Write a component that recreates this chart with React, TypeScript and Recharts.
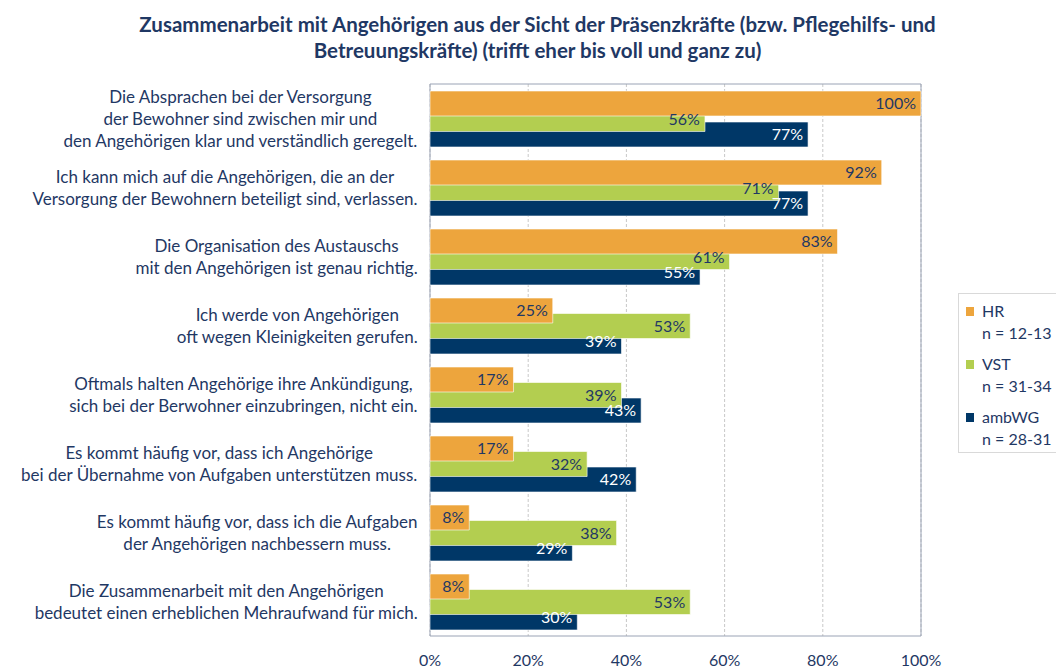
import React from 'react';
import { BarChart, Bar, XAxis, YAxis, CartesianGrid, LabelList, ReferenceArea, Legend } from 'recharts';

const categories = [
  'Die Absprachen bei der Versorgung\nder Bewohner sind zwischen mir und\nden Angehörigen klar und verständlich geregelt.',
  'Ich kann mich auf die Angehörigen, die an der\nVersorgung der Bewohnern beteiligt sind, verlassen.',
  'Die Organisation des Austauschs\nmit den Angehörigen ist genau richtig.',
  'Ich werde von Angehörigen\noft wegen Kleinigkeiten gerufen.',
  'Oftmals halten Angehörige ihre Ankündigung,\nsich bei der Berwohner einzubringen, nicht ein.',
  'Es kommt häufig vor, dass ich Angehörige\nbei der Übernahme von Aufgaben unterstützen muss.',
  'Es kommt häufig vor, dass ich die Aufgaben\nder Angehörigen nachbessern muss.',
  'Die Zusammenarbeit mit den Angehörigen\nbedeutet einen erheblichen Mehraufwand für mich.',
];
const hrValues = [100, 92, 83, 25, 17, 17, 8, 8];
const vstValues = [56, 71, 61, 53, 39, 32, 38, 53];
const ambwgValues = [77, 77, 55, 39, 43, 42, 29, 30];
const seriesNames = ['HR', 'VST', 'ambWG'];
const seriesN = ['n = 12-13', 'n = 31-34', 'n = 28-31'];
const xTicks = [0, 20, 40, 60, 80, 100];
const titleLines = [
  'Zusammenarbeit mit Angehörigen aus der Sicht der Präsenzkräfte (bzw. Pflegehilfs- und',
  'Betreuungskräfte) (trifft eher bis voll und ganz zu)',
];

const COLORS = ['#EDA53D', '#B3CE50', '#003767'];
const NAVY = '#1F3864';
const FONT = 'Lato, "Open Sans", sans-serif';
const FS = 16;
const CAT_FS = 17;

const data = categories.map((c, i) => ({
  category: c,
  HR: hrValues[i],
  VST: vstValues[i],
  ambWG: ambwgValues[i],
}));

let measureCtx: CanvasRenderingContext2D | null = null;
function textWidth(s: string): number {
  if (!measureCtx) {
    const c = document.createElement('canvas');
    measureCtx = c.getContext('2d');
  }
  if (!measureCtx) return s.length * 8;
  measureCtx.font = `${CAT_FS}px ${FONT}`;
  return measureCtx.measureText(s).width;
}

const CategoryTick = (props: any) => {
  const { x, y, payload } = props;
  const lines: string[] = String(payload.value).split('\n');
  const maxW = Math.max(...lines.map(textWidth));
  const cx = x - maxW / 2;
  const lh = 22;
  const startY = y - ((lines.length - 1) * lh) / 2;
  return (
    <g>
      {lines.map((l, i) => (
        <text
          key={i}
          x={cx}
          y={startY + i * lh}
          textAnchor="middle"
          dominantBaseline="central"
          fill={NAVY}
          fontSize={CAT_FS}
          fontFamily={FONT}
        >
          {l}
        </text>
      ))}
    </g>
  );
};

const LegendBox = () => (
  <div
    style={{
      position: 'relative',
      width: 110,
      height: 160,
      border: '1px solid #D9D9D9',
      background: '#fff',
      fontFamily: FONT,
      fontSize: FS,
      color: NAVY,
      boxSizing: 'border-box',
    }}
  >
    {seriesNames.map((name, i) => (
      <div key={name} style={{ position: 'absolute', left: 7, top: 6 + i * 53, lineHeight: '22px' }}>
        <div style={{ display: 'flex', alignItems: 'center' }}>
          <span style={{ display: 'inline-block', width: 8, height: 9, background: COLORS[i], marginRight: 8 }} />
          <span>{name}</span>
        </div>
        <div style={{ paddingLeft: 16 }}>{seriesN[i]}</div>
      </div>
    ))}
  </div>
);

export default function App() {
  return (
    <div style={{ position: 'absolute', left: 0, top: 0, width: 1056, height: 668, background: '#fff' }}>
      <div
        style={{
          position: 'absolute',
          left: 0,
          top: 11,
          width: 1075,
          textAlign: 'center',
          fontFamily: FONT,
          fontWeight: 700,
          fontSize: 20.5,
          lineHeight: '26px',
          color: NAVY,
        }}
      >
        {titleLines.map((t, i) => (
          <div key={i}>{t}</div>
        ))}
      </div>
      <BarChart
        width={1056}
        height={668}
        data={data}
        layout="vertical"
        margin={{ top: 84, right: 135, bottom: 2, left: 0 }}
        barSize={25}
        barGap={-40.5}
        style={{ position: 'absolute', left: 0, top: 0 }}
      >
        <CartesianGrid horizontal={false} vertical={true} stroke="#C8C8C8" strokeDasharray="3 2" />
        <XAxis
          type="number"
          domain={[0, 100]}
          ticks={xTicks}
          tickFormatter={(v: number) => `${v}%`}
          axisLine={false}
          tickLine={false}
          tickSize={0}
          tickMargin={19}
          height={30}
          tick={{ fill: NAVY, fontSize: FS, fontFamily: FONT }}
        />
        <YAxis
          type="category"
          dataKey="category"
          width={430}
          axisLine={false}
          tickLine={false}
          tickSize={0}
          tickMargin={12}
          interval={0}
          tick={<CategoryTick />}
        />
        <Bar dataKey="ambWG" fill={COLORS[2]} stroke="#ffffff" strokeWidth={0.6} isAnimationActive={false}>
          <LabelList dataKey="ambWG" position="insideRight" offset={5} fill="#ffffff" fontSize={FS} fontFamily={FONT} formatter={(v: any) => `${v}%`} />
        </Bar>
        <Bar dataKey="VST" fill={COLORS[1]} stroke="#ffffff" strokeWidth={0.6} isAnimationActive={false}>
          <LabelList dataKey="VST" position="insideRight" offset={5} fill={NAVY} fontSize={FS} fontFamily={FONT} formatter={(v: any) => `${v}%`} />
        </Bar>
        <Bar dataKey="HR" fill={COLORS[0]} stroke="#ffffff" strokeWidth={0.6} isAnimationActive={false}>
          <LabelList dataKey="HR" position="insideRight" offset={5} fill={NAVY} fontSize={FS} fontFamily={FONT} formatter={(v: any) => `${v}%`} />
        </Bar>
        <ReferenceArea x1={0} x2={100} fill="none" stroke="#9AA3B5" strokeWidth={1} fillOpacity={0} ifOverflow="extendDomain" />
        <Legend
          layout="vertical"
          align="center"
          verticalAlign="middle"
          wrapperStyle={{ left: 958, top: 293, width: 110 }}
          content={() => <LegendBox />}
        />
      </BarChart>
    </div>
  );
}
